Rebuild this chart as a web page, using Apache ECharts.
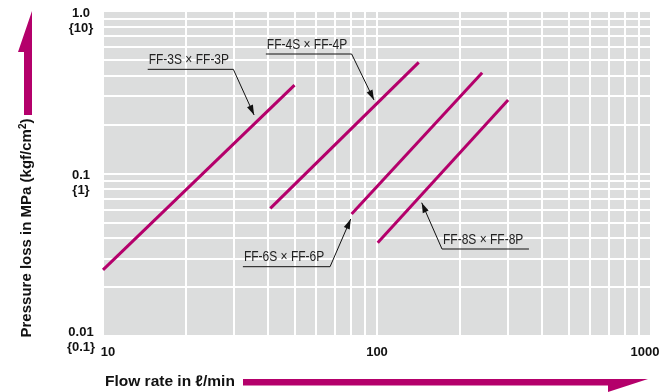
<!DOCTYPE html>
<html><head><meta charset="utf-8">
<script src="https://cdn.jsdelivr.net/npm/echarts@6/dist/echarts.min.js"></script>
<style>html,body{margin:0;padding:0;background:#fff}#c{width:669px;height:392px}</style>
</head><body><div id="c"></div>
<script>
// ---- data ----
const seriesNames = ['FF-3S × FF-3P', 'FF-4S × FF-4P', 'FF-6S × FF-6P', 'FF-8S × FF-8P'];
const ff3 = [[10, 0.0255], [50, 0.35]];
const ff4 = [[40.8, 0.061], [142, 0.483]];
const ff6 = [[80.8, 0.0564], [242, 0.417]];
const ff8 = [[100.6, 0.0375], [301, 0.283]];
const xTickLabels = ['10', '100', '1000'];
const yTickMPa = ['0.01', '0.1', '1.0'];
const yTickKgf = ['{0.1}', '{1}', '{10}'];
const xMinorGrid = [20, 30, 40, 50, 60, 70, 80, 90, 200, 300, 400, 500, 600, 700, 800, 900];
const yMinorGrid = [0.02, 0.03, 0.04, 0.05, 0.06, 0.07, 0.08, 0.09, 0.2, 0.3, 0.4, 0.5, 0.6, 0.7, 0.8, 0.9];
// annotation leader lines (data coords): far end of underline, elbow, arrow tip
const annFF3 = [[14.56, 0.4375], [29.9, 0.4375], [35.6, 0.229]];
const annFF4 = [[39.3, 0.5437], [80.8, 0.5437], [97.5, 0.2833]];
const annFF6 = [[32.4, 0.0267], [67.4, 0.0267], [80.2, 0.0525]];
const annFF8 = [[358.6, 0.0343], [172.7, 0.0343], [145.6, 0.0661]];

const LINE = '#b4006b';
const GRIDBG = '#dcdddd';
const bold = 'Liberation Sans, Arial, sans-serif';

const chart = echarts.init(document.getElementById('c'), null, {renderer: 'canvas'});
const dataSets = [ff3, ff4, ff6, ff8];

const option = {
  animation: false,
  grid: {left: 103, top: 11, right: 18, bottom: 56, show: true, backgroundColor: GRIDBG, borderWidth: 0,
    containLabel: false, outerBoundsMode: 'none'},
  xAxis: {
    type: 'log', logBase: 10, min: 10, max: 1000,
    axisLine: {show: false}, axisTick: {show: false},
    splitLine: {show: true, lineStyle: {color: '#fff', width: 2}},
    axisLabel: {
      margin: 9, fontFamily: bold, fontWeight: 'bold', fontSize: 13, color: '#111', lineHeight: 15,
      hideOverlap: false,
      formatter: function (v, i) {
        const t = xTickLabels[i];
        if (i === 0) return '{l|' + t + '}';
        if (i === xTickLabels.length - 1) return '{r|' + t + '}';
        return '{n|' + t + '}';
      },
      rich: {
        l: {fontFamily: bold, fontWeight: 'bold', fontSize: 13, color: '#111', padding: [0, 0, 0, 10]},
        r: {fontFamily: bold, fontWeight: 'bold', fontSize: 13, color: '#111', padding: [0, 12, 0, 0]},
        n: {fontFamily: bold, fontWeight: 'bold', fontSize: 13, color: '#111'}
      }
    }
  },
  yAxis: {
    type: 'log', logBase: 10, min: 0.01, max: 1,
    axisLine: {show: false}, axisTick: {show: false},
    splitLine: {show: true, lineStyle: {color: '#fff', width: 2}},
    axisLabel: {
      margin: 22, align: 'center', verticalAlign: 'middle',
      fontFamily: bold, fontWeight: 'bold', fontSize: 13, color: '#111', lineHeight: 15,
      hideOverlap: false,
      formatter: function (v, i) {
        return (i === 0 ? '{lo| }' : '{hi| }') + '\n' + yTickMPa[i] + '\n' + yTickKgf[i];
      },
      rich: {
        hi: {fontSize: 1, lineHeight: 19},
        lo: {fontSize: 1, lineHeight: 7}
      }
    }
  },
  series: [
    {
      type: 'line', name: 'grid', data: [], z: 1, silent: true,
      markLine: {
        z: 1, silent: true, symbol: ['none', 'none'], animation: false,
        label: {show: false}, emphasis: {disabled: true},
        lineStyle: {color: '#fff', width: 2, type: 'solid'},
        data: xMinorGrid.map(v => ({xAxis: v})).concat(yMinorGrid.map(v => ({yAxis: v})))
      }
    }
  ].concat(dataSets.map((d, k) => ({
    type: 'line', name: seriesNames[k], data: d, z: 4, showSymbol: false, symbol: 'none',
    lineStyle: {color: LINE, width: 3, cap: 'butt'}, silent: true
  })))
};
chart.setOption(option);

// annotations positioned via the chart's own scales
const anns = [annFF3, annFF4, annFF6, annFF8];
const graphics = [];
anns.forEach((a, k) => {
  const p = a.map(pt => chart.convertToPixel({gridIndex: 0}, pt));
  graphics.push({type: 'polyline', silent: true, z: 10, shape: {points: p}, style: {stroke: '#111', lineWidth: 1, fill: null}});
  const tip = p[2], el = p[1];
  const dx = tip[0] - el[0], dy = tip[1] - el[1], L = Math.hypot(dx, dy);
  const ux = dx / L, uy = dy / L, len = 10, hw = 3.2;
  const bx = tip[0] - ux * len, by = tip[1] - uy * len;
  graphics.push({type: 'polygon', silent: true, z: 11, shape: {points: [tip, [bx - uy * hw, by + ux * hw], [bx + uy * hw, by - ux * hw]]}, style: {fill: '#111'}});
  const left = Math.min(p[0][0], p[1][0]);
  graphics.push({type: 'text', silent: true, z: 12, x: left + 1, y: p[0][1] - 2, scaleX: 0.8,
    style: {text: seriesNames[k], font: '15px ' + bold, fill: '#222', textAlign: 'left', textVerticalAlign: 'bottom'}});
});
// axis titles and arrows
graphics.push({type: 'polygon', silent: true, shape: {points: [[24, 115], [24, 52], [18, 52], [32, 11], [32, 115]]}, style: {fill: LINE}});
graphics.push({type: 'polygon', silent: true, shape: {points: [[243, 379], [648, 379], [608, 392], [608, 385.5], [243, 385.5]]}, style: {fill: LINE}});
graphics.push({type: 'text', silent: true, x: 27, y: 228, rotation: Math.PI / 2,
  style: {text: 'Pressure loss in MPa (kgf/cm{sup|2})', font: 'bold 15px ' + bold, fill: '#111', textAlign: 'center', textVerticalAlign: 'middle',
    rich: {sup: {fontSize: 10, fontWeight: 'bold', fontFamily: bold, padding: [0, 0, 8, 0]}}}});
graphics.push({type: 'text', silent: true, x: 105, y: 382,
  style: {text: 'Flow rate in ℓ/min', font: 'bold 15.5px ' + bold, fill: '#111', textAlign: 'left', textVerticalAlign: 'middle'}});
chart.setOption({graphic: graphics});
</script>
</body></html>
